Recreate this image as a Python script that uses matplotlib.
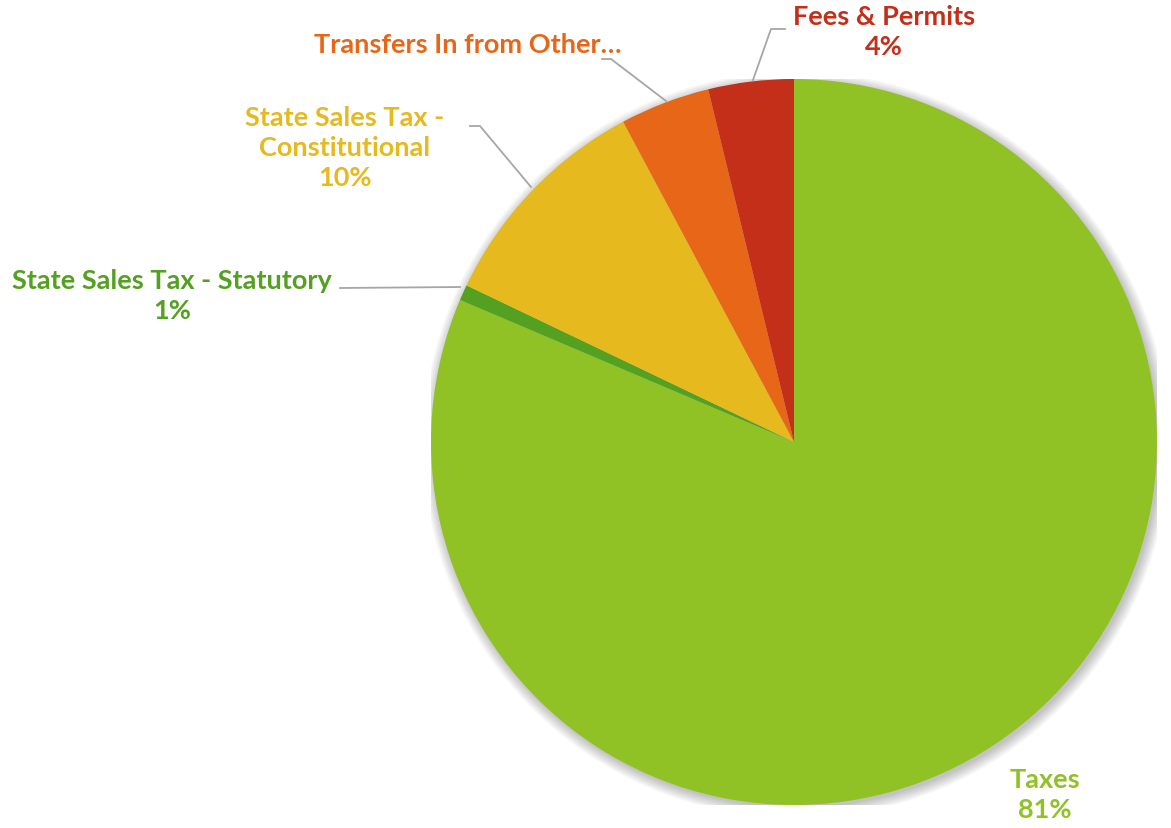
import numpy as np
import matplotlib.pyplot as plt
from matplotlib.patches import Circle

# ---- data ----
categories = ['Taxes', 'State Sales Tax - Statutory', 'State Sales Tax -\nConstitutional',
              'Transfers In from Other…', 'Fees & Permits']
values = [81.4, 0.7, 10.1, 4.0, 3.8]
colors = ['#90C226', '#54A021', '#E6B91E', '#E76618', '#C42F1A']
show_pct = [True, True, True, False, True]

plt.rcParams['font.family'] = ['Lato', 'DejaVu Sans']

W, H = 1171, 829
fig = plt.figure(figsize=(W / 100, H / 100), dpi=100)

# pie centre / radius in pixels
cx, cy, r = 794, 443, 363
ax = fig.add_axes([(cx - r) / W, (H - cy - r) / H, 2 * r / W, 2 * r / H])

# soft shadow behind the pie
for k in range(8):
    ax.add_patch(Circle((0.006, -0.008), 1 + 0.004 * k, color='#000000',
                        alpha=0.03, lw=0, zorder=0))

wedges, _ = ax.pie(values, colors=colors, startangle=90, counterclock=False,
                   radius=1, wedgeprops=dict(linewidth=0))
for w in wedges:
    w.set_zorder(2)

ax.set_xlim(-1, 1)
ax.set_ylim(-1, 1)
ax.set_aspect('equal')
ax.axis('off')


def px(x, y):
    return (x - cx) / r, (cy - y) / r


# label positions (pixels) and leader lines
label_pos = [(1045, 795), (172, 296), (345, 148), (468, 45), (884, 32)]
leaders = [None,
           [(340, 289), (460, 288)],
           [(470, 127), (480, 127), (531, 188)],
           [(602, 60), (611, 60), (666, 102)],
           [(785, 30), (771, 30), (753, 81)]]

for i, cat in enumerate(categories):
    pct = round(values[i])
    txt = f"{cat}\n{pct}%" if show_pct[i] else cat
    x, y = px(*label_pos[i])
    ax.text(x, y, txt, ha='center', va='center', color=colors[i],
            fontsize=19.5, fontweight='bold', linespacing=1.32, clip_on=False)
    if leaders[i]:
        pts = np.array([px(a, b) for a, b in leaders[i]])
        ax.plot(pts[:, 0], pts[:, 1], color='#A6A6A6', lw=1.3, clip_on=False, zorder=3)

fig.savefig('out.png', dpi=100)
